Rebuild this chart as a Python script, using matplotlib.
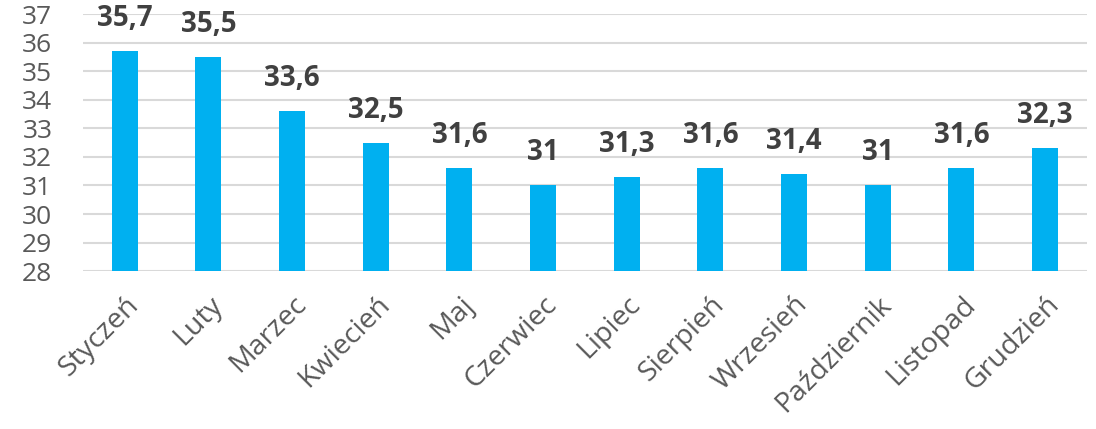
import matplotlib.pyplot as plt
import matplotlib.transforms as mtransforms

plt.rcParams['font.family'] = ['Open Sans', 'DejaVu Sans']

# Dane
miesiace = ["Styczeń", "Luty", "Marzec", "Kwiecień", "Maj", "Czerwiec",
            "Lipiec", "Sierpień", "Wrzesień", "Październik", "Listopad", "Grudzień"]
wartosci = [35.7, 35.5, 33.6, 32.5, 31.6, 31.0, 31.3, 31.6, 31.4, 31.0, 31.6, 32.3]
os_y = list(range(28, 38))


def etykieta(v):
    # format polski: przecinek, bez ",0"
    if v == int(v):
        return str(int(v))
    return f"{v:.1f}".replace(".", ",")


fig = plt.figure(figsize=(10.96, 4.29), dpi=100)
ax = fig.add_axes([0.0757, 0.368, 0.916, 0.599])

x = list(range(len(miesiace)))
ax.bar(x, [v - 28 for v in wartosci], bottom=28, width=0.31, color='#00B0F0', zorder=3)

for xi, v in zip(x, wartosci):
    ax.annotate(etykieta(v), (xi, v), xytext=(0, 13), textcoords='offset points',
                ha='center', va='bottom', fontsize=20, fontweight='bold', color='#404040')

ax.set_xlim(-0.5, len(miesiace) - 0.5)
ax.set_ylim(28, 37)
ax.set_yticks(os_y)
ax.set_yticklabels([str(t) for t in os_y], fontsize=19, color='#595959')
ax.grid(axis='y', color='#D9D9D9', linewidth=1.5, zorder=0)

ax.set_xticks(x)
ax.set_xticklabels(miesiace, rotation=45, ha='right', rotation_mode='anchor',
                   fontsize=20.5, color='#595959')
# lekkie przesunięcie etykiet w lewo
przesun = mtransforms.ScaledTranslation(-6 / 100, 0, fig.dpi_scale_trans)
for lbl in ax.get_xticklabels():
    lbl.set_transform(lbl.get_transform() + przesun)

for s in ax.spines.values():
    s.set_visible(False)
ax.tick_params(axis='both', length=0)
ax.tick_params(axis='x', pad=14)
ax.tick_params(axis='y', pad=22)

plt.savefig("out.png", dpi=100)
